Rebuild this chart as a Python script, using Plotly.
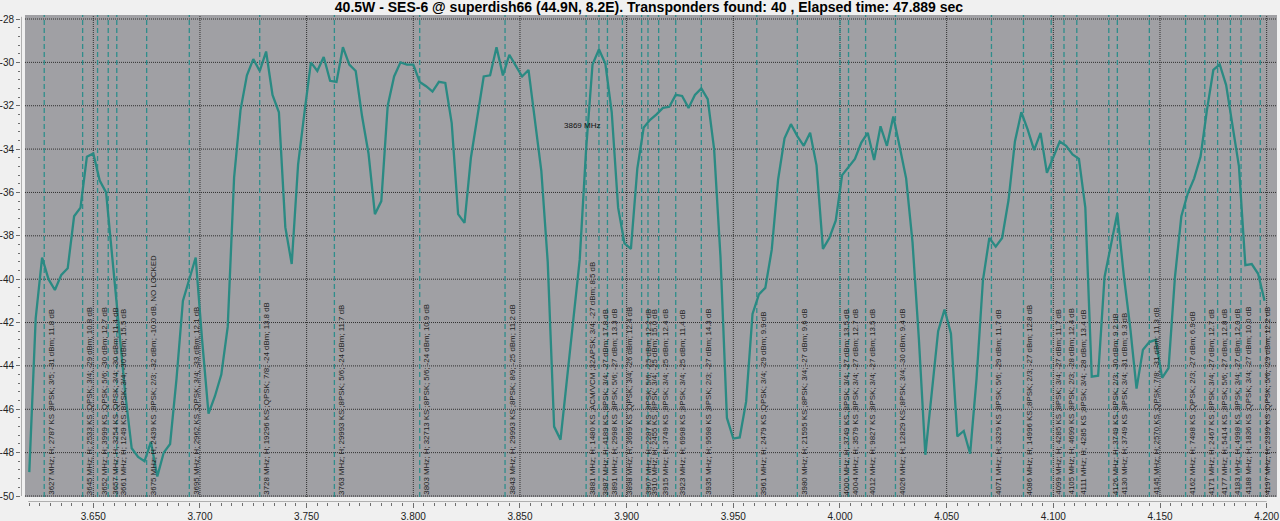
import plotly.graph_objects as go

# ---------------- data ----------------
FREQ_MHZ = [
    3620, 3623, 3626, 3629, 3632, 3635, 3638, 3641, 3644, 3647,
    3650, 3653, 3656, 3659, 3662, 3665, 3668, 3671, 3674, 3677,
    3680, 3683, 3686, 3689, 3692, 3695, 3698, 3701, 3704, 3707,
    3710, 3713, 3716, 3719, 3722, 3725, 3728, 3731, 3734, 3737,
    3740, 3743, 3746, 3749, 3752, 3755, 3758, 3761, 3764, 3767,
    3770, 3773, 3776, 3779, 3782, 3785, 3788, 3791, 3794, 3797,
    3800, 3803, 3806, 3809, 3812, 3815, 3818, 3821, 3824, 3827,
    3830, 3833, 3836, 3839, 3842, 3845, 3848, 3851, 3854, 3857,
    3860, 3863, 3866, 3869, 3872, 3875, 3878, 3881, 3884, 3887,
    3890, 3893, 3896, 3899, 3902, 3905, 3908, 3911, 3914, 3917,
    3920, 3923, 3926, 3929, 3932, 3935, 3938, 3941, 3944, 3947,
    3950, 3953, 3956, 3959, 3962, 3965, 3968, 3971, 3974, 3977,
    3980, 3983, 3986, 3989, 3992, 3995, 3998, 4001, 4004, 4007,
    4010, 4013, 4016, 4019, 4022, 4025, 4028, 4031, 4034, 4037,
    4040, 4043, 4046, 4049, 4052, 4055, 4058, 4061, 4064, 4067,
    4070, 4073, 4076, 4079, 4082, 4085, 4088, 4091, 4094, 4097,
    4100, 4103, 4106, 4109, 4112, 4115, 4118, 4121, 4124, 4127,
    4130, 4133, 4136, 4139, 4142, 4145, 4148, 4151, 4154, 4157,
    4160, 4163, 4166, 4169, 4172, 4175, 4178, 4181, 4184, 4187,
    4190, 4193, 4196, 4199,
]

LEVEL_DBM = [
    -48.9, -41.8, -39.0, -40.0, -40.5, -39.8, -39.5, -37.1, -36.7, -34.35,
    -34.2, -35.45, -36.0, -39.1, -42.0, -45.3, -47.8, -48.2, -48.4, -47.5,
    -49.1, -48.0, -47.6, -44.6, -41.0, -40.0, -39.0, -42.8, -46.2, -45.4,
    -44.4, -42.2, -35.3, -32.2, -30.6, -29.85, -30.4, -29.5, -31.5, -32.3,
    -37.6, -39.3, -34.7, -32.3, -30.0, -30.4, -29.75, -30.85, -30.9, -29.3,
    -30.1, -30.4, -32.5, -34.2, -37.0, -36.4, -32.0, -30.65, -30.0, -30.1,
    -30.1, -30.9, -31.1, -31.35, -30.9, -30.95, -32.8, -37.0, -37.4, -34.4,
    -32.5, -30.65, -30.6, -29.3, -30.6, -29.65, -30.15, -30.65, -30.35, -32.7,
    -35.0, -39.2, -46.8, -47.4, -44.6, -42.0, -39.1, -34.0, -30.1, -29.4,
    -30.05, -32.3, -36.7, -38.35, -38.6, -34.9, -33.0, -32.65, -32.4, -32.1,
    -32.05, -31.5, -31.55, -32.1, -31.5, -31.2, -31.7, -34.0, -39.0, -46.4,
    -47.35, -47.3, -45.65, -41.6, -40.7, -40.4, -38.65, -35.4, -33.5, -32.85,
    -33.4, -33.85, -33.25, -34.75, -38.6, -38.1, -37.3, -35.2, -34.8, -34.45,
    -33.7, -33.25, -34.5, -32.95, -33.85, -32.5, -33.9, -35.35, -38.3, -42.8,
    -48.1, -45.2, -42.4, -41.4, -42.5, -47.25, -47.0, -48.05, -44.6, -40.05,
    -38.1, -38.5, -38.1, -36.35, -33.65, -32.3, -33.1, -34.05, -33.25, -35.1,
    -34.35, -33.65, -33.85, -34.25, -34.45, -36.7, -44.5, -44.45, -39.9, -38.5,
    -36.95, -39.8, -42.2, -45.05, -43.25, -42.9, -42.8, -44.55, -44.1, -39.9,
    -37.1, -36.05, -35.35, -34.35, -32.2, -30.35, -30.1, -31.05, -32.95, -34.8,
    -39.35, -39.3, -39.75, -41.0,
]

TP_FREQ = [3627, 3645, 3652, 3657, 3661, 3675, 3695, 3728, 3763, 3803,
           3843, 3881, 3887, 3891, 3898, 3907, 3910, 3915, 3923, 3935,
           3961, 3980, 4000, 4004, 4012, 4026, 4071, 4086, 4099, 4105,
           4111, 4126, 4130, 4145, 4162, 4171, 4177, 4183, 4188, 4197]
TP_POL = ["H"] * 40
TP_SR = [2787, 2533, 3999, 3254, 1249, 2439, 2962, 19296, 29993, 32713,
         29993, 1480, 4189, 2998, 3699, 2287, 2455, 3749, 6998, 9598,
         2479, 21595, 3749, 3579, 9827, 12829, 3329, 14996, 4285, 4699,
         4285, 3749, 3749, 2570, 7498, 2467, 5414, 4998, 1836, 2399]
TP_MOD = ["8PSK", "QPSK", "QPSK", "QPSK", "8PSK", "8PSK", "QPSK", "QPSK", "8PSK", "8PSK",
          "8PSK", "ACM/VCM ;32APSK", "8PSK", "8PSK", "QPSK", "8PSK", "8PSK", "8PSK", "8PSK", "8PSK",
          "QPSK", "8PSK", "8PSK", "8PSK", "8PSK", "8PSK", "8PSK", "8PSK", "8PSK", "8PSK",
          "8PSK", "8PSK", "8PSK", "QPSK", "QPSK", "8PSK", "8PSK", "8PSK", "QPSK", "QPSK"]
TP_FEC = ["3/5", "3/4", "5/6", "3/4", "3/4", "2/3", "3/4", "7/8", "5/6", "5/6",
          "8/9", "3/4", "3/4", "5/6", "3/4", "5/6", "3/4", "3/4", "3/4", "2/3",
          "3/4", "3/4", "3/4", "3/4", "3/4", "3/4", "5/6", "2/3", "3/4", "2/3",
          "3/4", "2/3", "3/4", "7/8", "2/3", "3/4", "5/6", "3/4", "3/4", "5/6"]
TP_DBM = [-31, -29, -30, -30, -30, -32, -33, -24, -24, -24,
          -25, -27, -27, -27, -26, -25, -25, -25, -25, -27,
          -29, -27, -27, -27, -27, -30, -29, -27, -27, -28,
          -28, -30, -31, -31, -27, -27, -27, -27, -27, -29]
TP_SNR = [11.8, 10.8, 12.7, 11.4, 15.5, -10.0, 12.1, 13.8, 11.7, 10.9,
          11.2, 8.5, 17.8, 13.3, 12.4, 12.2, 15.0, 12.4, 11.4, 14.3,
          9.9, 9.6, 13.5, 12.7, 13.5, 9.4, 11.7, 12.8, 11.7, 12.4,
          13.4, 9.2, 9.3, 11.3, 6.9, 12.7, 12.8, 12.0, 10.0, 12.2]
TP_NOTE = {5: "NO LOCKED"}

MARKER_MHZ = 3869
MARKER_LEVEL = -32.9

TITLE = ("40.5W - SES-6 @ superdish66 (44.9N, 8.2E). Transponders found: 40 , "
         "Elapsed time: 47.889 sec")

X_TICKS = [3.65, 3.70, 3.75, 3.80, 3.85, 3.90, 3.95, 4.00, 4.05, 4.10, 4.15, 4.20]
Y_TICKS = [-50, -48, -46, -44, -42, -40, -38, -36, -34, -32, -30, -28]

# ---------------- style / layout ----------------
W, H = 1280, 521
X_RANGE = [3.61611, 4.20484]
Y_RANGE = [-50.2768, -27.8155]
CANVAS_X = [3.61798, 4.20484]
CANVAS_Y = [-50.046, -27.8155]
AXIS_X_LINE = [3.6195, 4.2000]
AXIS_Y_LINE = [-50.0, -27.9]

PAGE_BG = "#f0f0f0"
CANVAS_BG = "#a0a0a4"
TRACE_COLOR = "#2a8a83"
TP_COLOR = "#2f8e8c"
GRID_COLOR = "#2e2e2e"
TICK_COLOR = "#6e6e6e"
TEXT_COLOR = "#222222"

freqs_ghz = [f / 1000.0 for f in FREQ_MHZ]

fig = go.Figure()

# transponder dashed lines
tx, ty = [], []
for f in TP_FREQ:
    tx += [f / 1000.0, f / 1000.0, None]
    ty += [CANVAS_Y[0], CANVAS_Y[1], None]
fig.add_trace(go.Scatter(x=tx, y=ty, mode="lines", hoverinfo="skip",
                         line=dict(color=TP_COLOR, width=1.3, dash="5px,3px"),
                         showlegend=False))

# spectrum trace
fig.add_trace(go.Scatter(x=freqs_ghz, y=LEVEL_DBM, mode="lines",
                         line=dict(color=TRACE_COLOR, width=2.3),
                         showlegend=False))

shapes = []
# canvas
shapes.append(dict(type="rect", xref="x", yref="y", layer="below",
                   x0=CANVAS_X[0], x1=CANVAS_X[1], y0=CANVAS_Y[0], y1=CANVAS_Y[1],
                   fillcolor=CANVAS_BG, line=dict(width=0)))
# grid
for v in Y_TICKS:
    shapes.append(dict(type="line", xref="x", yref="y", layer="below",
                       x0=CANVAS_X[0], x1=CANVAS_X[1], y0=v, y1=v,
                       line=dict(color=GRID_COLOR, width=1, dash="1px,1px")))
for v in X_TICKS:
    shapes.append(dict(type="line", xref="x", yref="y", layer="below",
                       x0=v, x1=v, y0=CANVAS_Y[0], y1=CANVAS_Y[1],
                       line=dict(color=GRID_COLOR, width=1, dash="1px,1px")))
# axis backbones
shapes.append(dict(type="line", xref="x", yref="y", x0=AXIS_X_LINE[0], x1=AXIS_X_LINE[1],
                   y0=Y_RANGE[0], y1=Y_RANGE[0], line=dict(color=TICK_COLOR, width=1)))
shapes.append(dict(type="line", xref="x", yref="y", x0=X_RANGE[0], x1=X_RANGE[0],
                   y0=AXIS_Y_LINE[0], y1=AXIS_Y_LINE[1], line=dict(color=TICK_COLOR, width=1)))

annotations = []
for i, f in enumerate(TP_FREQ):
    txt = (f"{f} MHz; {TP_POL[i]}; {TP_SR[i]} KS ;{TP_MOD[i]}; {TP_FEC[i]}; "
           f"{TP_DBM[i]} dBm; {TP_SNR[i]:.1f} dB")
    if i in TP_NOTE:
        txt += ", " + TP_NOTE[i]
    annotations.append(dict(x=f / 1000.0, y=CANVAS_Y[0], xref="x", yref="y",
                            text=txt, textangle=-90, showarrow=False,
                            xanchor="left", yanchor="bottom", xshift=1, yshift=1,
                            borderpad=0,
                            font=dict(family="Liberation Sans", size=7.9, color=TEXT_COLOR)))
annotations.append(dict(x=MARKER_MHZ / 1000.0, y=MARKER_LEVEL, xref="x", yref="y",
                        text=f"{MARKER_MHZ} MHz", showarrow=False, xanchor="left",
                        yanchor="middle", xshift=2, borderpad=0,
                        font=dict(family="Liberation Sans", size=8, color="#111111")))

fig.update_layout(
    width=W, height=H,
    margin=dict(l=21, r=3, t=15, b=19, autoexpand=False),
    paper_bgcolor=PAGE_BG, plot_bgcolor=PAGE_BG,
    title=dict(text=TITLE, x=0.5, xref="paper", xanchor="center",
               y=1 - 7.0 / H, yref="container", yanchor="middle",
               font=dict(family="Liberation Sans", size=14, color="#000000",
                         weight="bold")),
    shapes=shapes, annotations=annotations,
    xaxis=dict(range=X_RANGE, showgrid=False, zeroline=False, showline=False,
               tickmode="array", tickvals=X_TICKS, ticktext=[f"{v:.3f}" for v in X_TICKS],
               ticks="outside", ticklen=5, tickcolor=TICK_COLOR, tickwidth=1,
               tickfont=dict(family="Liberation Sans", size=10, color=TEXT_COLOR),
               minor=dict(tickmode="linear", tick0=3.62, dtick=0.005, ticks="outside",
                          ticklen=3, tickcolor=TICK_COLOR, showgrid=False),
               automargin=False),
    yaxis=dict(range=Y_RANGE, showgrid=False, zeroline=False, showline=False,
               tickmode="array", tickvals=Y_TICKS, ticktext=[str(v) for v in Y_TICKS],
               ticks="outside", ticklen=4, tickcolor=TICK_COLOR, tickwidth=1,
               tickfont=dict(family="Liberation Sans", size=10, color=TEXT_COLOR),
               minor=dict(tickmode="linear", tick0=-50, dtick=0.4, ticks="outside",
                          ticklen=2, tickcolor=TICK_COLOR, showgrid=False),
               automargin=False),
)

fig.write_html("out.html", config={"displayModeBar": False},
               post_script="document.body.style.margin='0px';")
